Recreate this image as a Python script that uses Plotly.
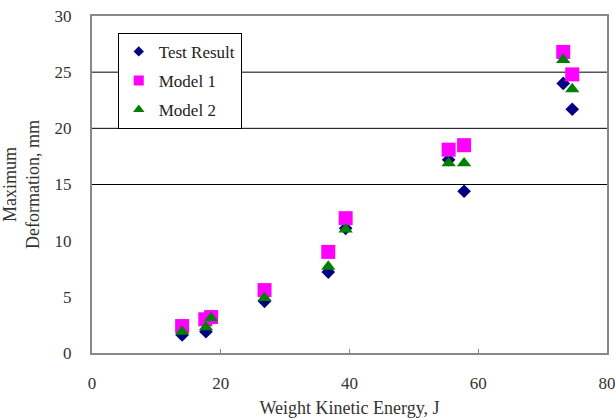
import plotly.graph_objects as go

# Data
test_x = [14.0, 17.7, 26.8, 36.7, 39.4, 55.4, 57.8, 73.2, 74.6]
test_y = [1.6, 1.9, 4.6, 7.2, 11.1, 17.2, 14.4, 24.0, 21.7]

m1_x = [14.0, 17.6, 18.5, 26.8, 36.7, 39.4, 55.4, 57.8, 73.2, 74.6]
m1_y = [2.4, 3.0, 3.2, 5.6, 9.0, 12.0, 18.1, 18.5, 26.8, 24.8]

m2_x = [14.0, 17.7, 18.5, 26.8, 36.7, 39.4, 55.4, 57.8, 73.2, 74.6]
m2_y = [1.9, 2.3, 3.1, 4.9, 7.7, 11.0, 16.9, 16.9, 26.1, 23.5]

series_names = ["Test Result", "Model 1", "Model 2"]
grid_levels = [15, 20, 25]
x_ticks = [0, 20, 40, 60, 80]
y_ticks = [0, 5, 10, 15, 20, 25, 30]

FONT = "Liberation Serif, Times New Roman, serif"

styles = [
    dict(symbol="diamond", color="#000080", size=10.5, leg=8),
    dict(symbol="square", color="#FF00FF", size=14, leg=10),
    dict(symbol="triangle-up", color="#008000", size=12.5, leg=10),
]
data = [(test_x, test_y), (m1_x, m1_y), (m2_x, m2_y)]

fig = go.Figure()
for name, (xs, ys), st in zip(series_names, data, styles):
    fig.add_trace(go.Scatter(x=xs, y=ys, mode="markers", name=name,
                             showlegend=False, legendgroup=name,
                             marker=dict(symbol=st["symbol"], size=st["size"],
                                         color=st["color"])))
# legend entries with small symbols, as in the reference
for name, st in zip(series_names, styles):
    fig.add_trace(go.Scatter(x=[None], y=[None], mode="markers", name=name,
                             legendgroup=name, showlegend=True,
                             marker=dict(symbol=st["symbol"], size=st["leg"],
                                         color=st["color"])))

for g in grid_levels:
    fig.add_shape(type="line", xref="paper", yref="y", x0=0, x1=1, y0=g, y1=g,
                  line=dict(color="black", width=1), layer="below")

fig.update_layout(
    width=615, height=418,
    margin=dict(l=92, r=8, t=16, b=65, autoexpand=False),
    paper_bgcolor="white", plot_bgcolor="white",
    font=dict(family=FONT, size=17, color="#222"),
    legend=dict(x=0.05, y=0.95, xanchor="left", yanchor="top",
                bgcolor="white", bordercolor="black", borderwidth=1,
                font=dict(family=FONT, size=17, color="#222"),
                tracegroupgap=4, itemwidth=30),
    xaxis=dict(range=[0, 80], tickvals=x_ticks, showgrid=False, zeroline=False,
               showline=True, linecolor="#888", linewidth=2, mirror=True,
               ticks="inside", ticklen=4, tickcolor="#888",
               ticklabelstandoff=14, automargin=False,
               ticklabeloverflow="allow",
               tickfont=dict(family=FONT, size=17, color="#333"),
               title=dict(text="Weight Kinetic Energy, J", standoff=14,
                          font=dict(family=FONT, size=18, color="#333"))),
    yaxis=dict(range=[0, 30], tickvals=y_ticks, showgrid=False, zeroline=False,
               showline=True, linecolor="#888", linewidth=2, mirror=True,
               ticks="", ticklabelstandoff=15, automargin=False,
               ticklabeloverflow="allow",
               tickfont=dict(family=FONT, size=17, color="#333"),
               title=dict(text="Maximum<br>Deformation, mm", standoff=10,
                          font=dict(family=FONT, size=18, color="#333"))),
)

fig.write_html("out.html")
